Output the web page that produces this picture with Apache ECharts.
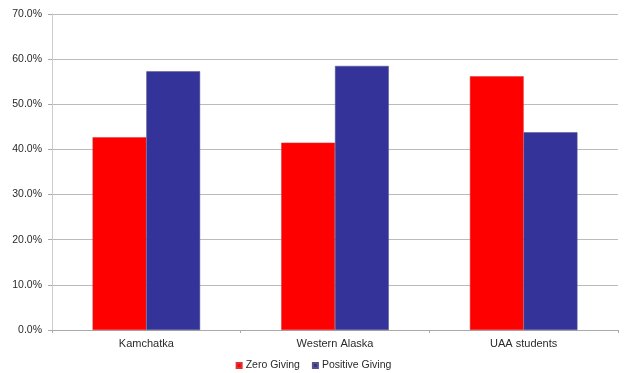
<!DOCTYPE html>
<html>
<head>
<meta charset="utf-8">
<script src="https://cdn.jsdelivr.net/npm/echarts@6/dist/echarts.min.js"></script>
<style>
  html, body { margin: 0; padding: 0; background: #fff; }
  #chart { width: 627px; height: 373px; }
</style>
</head>
<body>
<div id="chart"></div>
<script>
// Share of respondents by giving behaviour, per group
const categories = ['Kamchatka', 'Western Alaska', 'UAA students'];
const zeroGiving = [42.7, 41.5, 56.2];
const positiveGiving = [57.3, 58.5, 43.8];
const seriesNames = ['Zero Giving', 'Positive Giving'];

const chart = echarts.init(document.getElementById('chart'));
const font = 'Liberation Sans, Arial, sans-serif';
const textColor = '#2a2a2a';

chart.setOption({
  animation: false,
  textStyle: { fontFamily: font },
  grid: { left: 52, right: 9, top: 14, bottom: 43, containLabel: false },
  legend: {
    data: seriesNames,
    bottom: 2,
    left: 'center',
    padding: 0,
    itemWidth: 5,
    itemHeight: 5,
    itemGap: 12,
    icon: 'rect',
    textStyle: { fontSize: 10.5, color: textColor, fontFamily: font, padding: [0, 0, 0, -1] }
  },
  xAxis: {
    type: 'category',
    data: categories,
    axisLine: { lineStyle: { color: '#aaa', width: 1 } },
    axisTick: { show: true, length: 3, lineStyle: { color: '#aaa' } },
    axisLabel: { fontSize: 11, color: textColor, margin: 8, fontFamily: font }
  },
  yAxis: {
    type: 'value',
    min: 0,
    max: 70,
    interval: 10,
    axisLine: { show: true, lineStyle: { color: '#ccc' } },
    axisTick: { show: true, length: 4, inside: false, lineStyle: { color: '#aaa' } },
    splitLine: { lineStyle: { color: '#bbb', width: 1 } },
    axisLabel: {
      fontSize: 10.5, color: textColor, margin: 10, fontFamily: font,
      formatter: v => v.toFixed(1) + '%'
    }
  },
  series: [
    {
      name: seriesNames[0],
      type: 'bar',
      data: zeroGiving,
      barGap: '0%',
      barCategoryGap: '43%',
      itemStyle: { color: '#ff0000', borderColor: '#d33', borderWidth: 0.5 }
    },
    {
      name: seriesNames[1],
      type: 'bar',
      data: positiveGiving,
      itemStyle: { color: '#333399', borderColor: '#55558a', borderWidth: 0.5 }
    }
  ]
});
</script>
</body>
</html>
